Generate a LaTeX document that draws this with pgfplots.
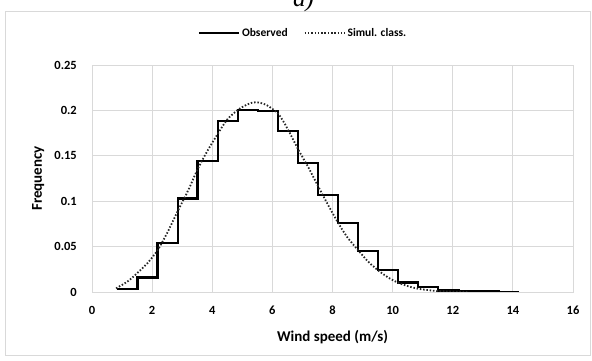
\documentclass[border=0pt]{standalone}
\usepackage{fontspec}
\setmainfont{Carlito}
\newfontfamily\titlefont{Liberation Serif}
\usepackage{pgfplots}
\pgfplotsset{compat=1.18}
\definecolor{gridgray}{HTML}{D9D9D9}
\definecolor{framegray}{HTML}{D9D9D9}
\begin{document}
\begin{tikzpicture}[x=1pt,y=1pt]
\useasboundingbox (0,0) rectangle (592,361);
\draw[framegray, line width=0.8pt] (5,6) rectangle (590,349.5);
\node[font=\titlefont\itshape\fontsize{25}{25}\selectfont, anchor=base, inner sep=0pt] at (303.5,354) {a)};
\begin{axis}[
  at={(92pt,69pt)}, anchor=south west,
  scale only axis, width=481pt, height=227pt,
  xmin=0, xmax=16, ymin=0, ymax=0.25,
  xtick={0,2,4,6,8,10,12,14,16},
  xticklabels={0,2,4,6,8,10,12,14,16},
  ytick={0,0.05,0.1,0.15,0.2,0.25},
  yticklabels={0,0.05,0.1,0.15,0.2,0.25},
  grid=major, grid style={gridgray, line width=0.9pt},
  axis line style={gridgray, line width=0.9pt},
  tick style={draw=none},
  /pgf/number format/assume math mode=true,
  ticklabel style={font=\bfseries\fontsize{12.5}{13}\selectfont},
  yticklabel style={anchor=east, inner sep=0pt, xshift=-15pt},
  xticklabel style={anchor=north, inner sep=0pt, yshift=-14pt},
  xlabel={Wind speed (m/s)},
  ylabel={Frequency},
  label style={font=\bfseries\fontsize{15}{16}\selectfont},
  xlabel style={at={(axis description cs:0.5,-0.198)}, anchor=center},
  ylabel style={at={(axis description cs:-0.112,0.5)}, anchor=center},
  legend columns=2,
  legend style={at={(0.4387,1.141)}, anchor=center, draw=none, fill=none,
    font=\bfseries\fontsize{11.5}{12}\selectfont,
    /tikz/every even column/.append style={column sep=14pt}},
  legend image code/.code={\draw[#1] (0pt,0pt) -- (40pt,0pt);},
]
\addplot[const plot, black, line width=2.3pt] coordinates {
(0.84,0.003) (1.51,0.016) (2.18,0.054) (2.85,0.103) (3.51,0.144)
(4.18,0.188) (4.85,0.2005) (5.52,0.1990) (6.18,0.177) (6.85,0.142)
(7.52,0.107) (8.19,0.076) (8.85,0.045) (9.52,0.024) (10.19,0.0103)
(10.85,0.0058) (11.52,0.0018) (12.19,0.0008) (12.85,0.0004) (13.52,0.0003)
(14.19,0.0003)
};
\addlegendentry{Observed}
\addplot[smooth, black!85, line width=1.8pt, dash pattern=on 1.5pt off 1.8pt] coordinates {
(0.8,0.004) (1.2,0.012) (1.51,0.021) (1.85,0.032) (2.18,0.046)
(2.5,0.065) (2.85,0.089) (3.2,0.112) (3.51,0.135) (3.85,0.156)
(4.18,0.174) (4.5,0.190) (4.87,0.201) (5.2,0.207) (5.45,0.209)
(5.8,0.206) (6.2,0.196) (6.5,0.180) (6.86,0.157) (7.2,0.137)
(7.53,0.116) (7.85,0.096) (8.19,0.076) (8.5,0.060) (8.88,0.045)
(9.2,0.033) (9.55,0.023) (9.9,0.015) (10.2,0.010) (10.55,0.006)
(10.87,0.0035) (11.2,0.002) (11.5,0.001) (12.0,0.0004) (12.5,0.0)
};
\addlegendentry{Simul. class.}
\end{axis}
\end{tikzpicture}
\end{document}
